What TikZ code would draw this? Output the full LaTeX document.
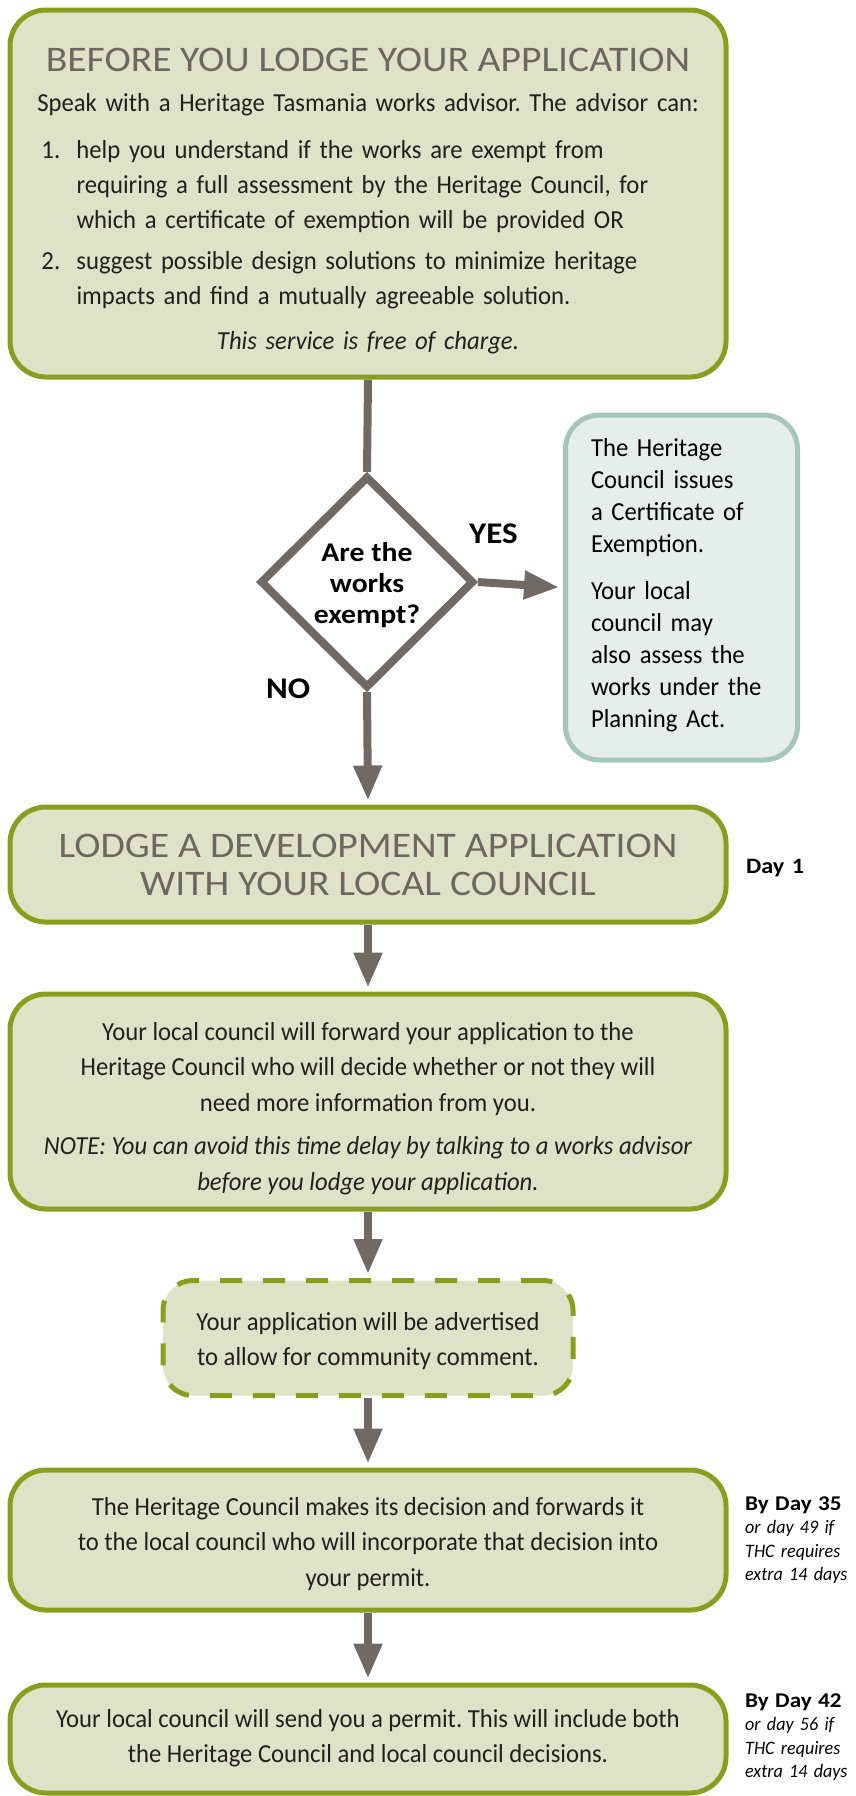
\documentclass[tikz,border=0pt]{standalone}
\usepackage{fontspec}
\setmainfont{Carlito}[FakeStretch=0.95]
\newfontfamily\headface{Carlito}[FakeStretch=1.1]
\newfontfamily\boldface{Carlito}[FakeStretch=1.1]
\usetikzlibrary{shapes.geometric,arrows.meta,backgrounds}
\definecolor{boxfill}{RGB}{222,226,198}
\definecolor{boxline}{RGB}{138,158,30}
\definecolor{flowgray}{RGB}{114,106,98}
\definecolor{headgray}{RGB}{110,103,97}
\definecolor{sidefill}{RGB}{229,238,234}
\definecolor{sideline}{RGB}{166,198,187}
\definecolor{bodyink}{RGB}{35,31,32}
\newcommand\bodysize{\fontsize{26}{35.5}\selectfont}
\newcommand\headsize{\fontsize{36}{38}\selectfont}
\newcommand\asksize{\fontsize{27}{31}\selectfont}
\newcommand\notesize{\fontsize{19}{23.5}\selectfont}
\newcommand\topstrut[1]{\rule{0pt}{#1pt}}
\newcommand\botstrut{\rule[-12pt]{0pt}{12pt}}
\setlength{\parskip}{0pt}
\frenchspacing

\begin{document}
\begin{tikzpicture}[x=1pt,y=-1pt,
  stage/.style={draw=boxline,fill=boxfill,line width=5pt,rounded corners=36pt,inner sep=0pt,
    minimum width=716pt,align=center,font=\bodysize,text=bodyink},
  dashedstage/.style={stage,rounded corners=30pt,dash pattern=on 22pt off 21pt,
    minimum width=410pt,minimum height=115pt},
  sidestage/.style={draw=sideline,fill=sidefill,line width=5pt,rounded corners=34pt,inner sep=0pt,
    minimum width=232pt,minimum height=345pt,text width=181pt,align=left,
    font=\fontsize{26}{32}\selectfont,text=black},
  question/.style={diamond,draw=flowgray,fill=white,line width=8pt,inner sep=0pt,
    minimum width=214pt,minimum height=206pt,align=center,
    font=\asksize\boldface\bfseries},
  answer/.style={anchor=base west,inner sep=0pt,font=\fontsize{30}{32}\selectfont\boldface\bfseries},
  daynote/.style={anchor=base west,inner sep=0pt,text width=110pt,align=left,font=\notesize},
  flow/.style={draw=flowgray,line width=8pt},
  flowarrow/.style={flow,-{Triangle[width=27pt,length=35pt]},shorten >=4pt}]

  \useasboundingbox (0,0) rectangle (855,1796);

  \node[stage,align=left,text width=653pt,minimum height=367pt,font=\fontsize{26}{35}\selectfont] (advice) at (368,193.5) {%
    {\centering\headsize\headface\color{headgray}\topstrut{45}BEFORE YOU LODGE YOUR APPLICATION\par}
    \vspace{5pt}
    \makebox[\linewidth]{Speak with a Heritage Tasmania works advisor. The advisor can:}\par
    \vspace{12pt}
    \hangindent=35pt\hangafter=1 \makebox[35pt][l]{1.}help you understand if the works are exempt from\newline
    requiring a full assessment by the Heritage Council, for\newline
    which a certificate of exemption will be provided OR\par
    \vspace{6pt}
    \hangindent=35pt\hangafter=1 \makebox[35pt][l]{2.}suggest possible design solutions to minimize heritage\newline
    impacts and find a mutually agreeable solution.\par
    \vspace{10pt}
    {\centering\itshape This service is free of charge.\botstrut\par}};

  \node[question] (exempt) at (367,582) {\topstrut{32}Are the\\works\\exempt?\botstrut};
  \node[answer] (yes) at (469,543) {YES};
  \node[answer] (no) at (266,698) {NO};

  \node[sidestage] (certificate) at (681.5,587.5) {%
    \topstrut{21}The Heritage\\Council issues\\a Certificate of\\Exemption.\par
    \vspace{15pt}
    Your local\\council may\\also assess the\\works under the\\Planning Act.\botstrut};

  \node[stage,minimum height=115pt,font=\headsize\headface,text=headgray] (lodge) at (368,864.5)
    {\topstrut{35}LODGE A DEVELOPMENT APPLICATION\\WITH YOUR LOCAL COUNCIL\botstrut};
  \node[daynote,font=\fontsize{22}{24}\selectfont\boldface\bfseries] (day1) at (746,873) {Day 1};

  \node[stage,minimum height=215pt] (forward) at (368,1101.5) {%
    \topstrut{39}Your local council will forward your application to the\\
    Heritage Council who will decide whether or not they will\\
    need more information from you.\\[8pt]
    \itshape NOTE: You can avoid this time delay by talking to a works advisor\\
    \itshape before you lodge your application.\botstrut};

  \node[dashedstage] (advert) at (368,1338)
    {\topstrut{31.5}Your application will be advertised\\to allow for community comment.\botstrut};

  \node[stage,minimum height=140pt] (decision) at (368,1540) {%
    \topstrut{33}The Heritage Council makes its decision and forwards it\\
    to the local council who will incorporate that decision into\\
    your permit.\botstrut};
  \node[daynote] (day35) at (745,1510)
    {{\fontsize{21}{23.5}\selectfont\boldface\bfseries By Day 35}\\\itshape or day 49 if\\THC requires\\extra 14 days};

  \node[stage,minimum height=108pt] (permit) at (368,1739) {%
    \topstrut{23.5}Your local council will send you a permit. This will include both\\
    the Heritage Council and local council decisions.\botstrut};
  \node[daynote] (day42) at (745,1707)
    {{\fontsize{21}{23.5}\selectfont\boldface\bfseries By Day 42}\\\itshape or day 56 if\\THC requires\\extra 14 days};

  \begin{scope}[on background layer]
    \draw[flow] (advice.south) -- (exempt.north);
    \draw[flowarrow] (exempt.east) -- (certificate.west);
    \draw[flowarrow] (exempt.south) -- (lodge.north);
    \draw[flowarrow] (lodge.south) -- (forward.north);
    \draw[flowarrow] (forward.south) -- (advert.north);
    \draw[flowarrow] (advert.south) -- (decision.north);
    \draw[flowarrow] (decision.south) -- (permit.north);
  \end{scope}
\end{tikzpicture}
\end{document}
